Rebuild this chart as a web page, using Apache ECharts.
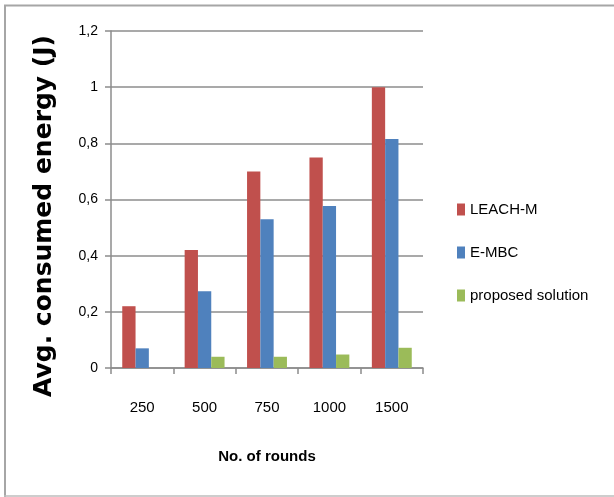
<!DOCTYPE html>
<html><head><meta charset="utf-8">
<script src="https://cdn.jsdelivr.net/npm/echarts@6/dist/echarts.min.js"></script>
<style>html,body{margin:0;padding:0;background:#fff}#c{width:614px;height:497px}</style>
</head><body><div id="c"></div>
<script>
var categories = ['250', '500', '750', '1000', '1500'];
var leachM = [0.22, 0.42, 0.70, 0.75, 1.0];
var eMBC = [0.07, 0.273, 0.53, 0.577, 0.815];
var proposed = [0, 0.04, 0.04, 0.048, 0.072];
var seriesNames = ['LEACH-M', 'E-MBC', 'proposed solution'];
var yTickLabels = {'0':'0','0.2':'0,2','0.4':'0,4','0.6':'0,6','0.8':'0,8','1':'1','1.2':'1,2'};
var yTitle = 'Avg. consumed energy (J)';
var xTitle = 'No. of rounds';

var font = '"Liberation Sans", sans-serif';
var chart = echarts.init(document.getElementById('c'), null, {renderer:'canvas'});
var colors = ['#C0504D', '#4F81BD', '#9BBB59'];
function mk(name, data, i){
  return {name:name, type:'bar', data:data, barWidth:13.3, barGap:'0%',
    itemStyle:{color:colors[i]}, animation:false};
}
chart.setOption({
  animation:false,
  backgroundColor:'#fff',
  grid:{left:111, right:191, top:31, bottom:129},
  legend:{orient:'vertical', left:452, top:197, itemWidth:8, itemHeight:12, itemGap:28,
    icon:'rect', textStyle:{fontFamily:font, fontSize:15, color:'#000'},
    data:seriesNames},
  xAxis:{type:'category', data:categories,
    name:xTitle, nameLocation:'middle', nameGap:81,
    nameTextStyle:{fontFamily:font, fontSize:15, fontWeight:'bold', color:'#000'},
    axisLine:{lineStyle:{color:'#8c8c8c', width:1.5}},
    axisTick:{show:true, length:6, lineStyle:{color:'#8c8c8c', width:1.5}},
    axisLabel:{fontFamily:font, fontSize:15, color:'#000', margin:32}},
  yAxis:{type:'value', min:0, max:1.2, interval:0.2,
    axisLine:{show:true, lineStyle:{color:'#8c8c8c', width:1.5}},
    axisTick:{show:true, length:6, lineStyle:{color:'#8c8c8c', width:1.5}},
    splitLine:{lineStyle:{color:'#8c8c8c', width:1.5}},
    axisLabel:{fontFamily:font, fontSize:14, color:'#000', margin:13,
      formatter:function(v){var k=String(Math.round(v*10)/10); return yTickLabels[k]!==undefined?yTickLabels[k]:k;}}},
  series:[mk(seriesNames[0], leachM, 0), mk(seriesNames[1], eMBC, 1), mk(seriesNames[2], proposed, 2)],
  graphic:[
    {type:'text', x:44, y:216, rotation:Math.PI/2,
      style:{text:yTitle, fontFamily:'"DejaVu Sans", sans-serif', fontSize:25, fontWeight:'bold',
        fill:'#000', align:'center', verticalAlign:'middle'}},
    {type:'line', shape:{x1:4, y1:5.5, x2:614, y2:5.5}, style:{stroke:'#a6a6a6', lineWidth:2}},
    {type:'line', shape:{x1:5, y1:5, x2:5, y2:497}, style:{stroke:'#a6a6a6', lineWidth:2}},
    {type:'line', shape:{x1:4, y1:496, x2:614, y2:496}, style:{stroke:'#bdbdbd', lineWidth:1.5}}
  ]
});
</script></body></html>
